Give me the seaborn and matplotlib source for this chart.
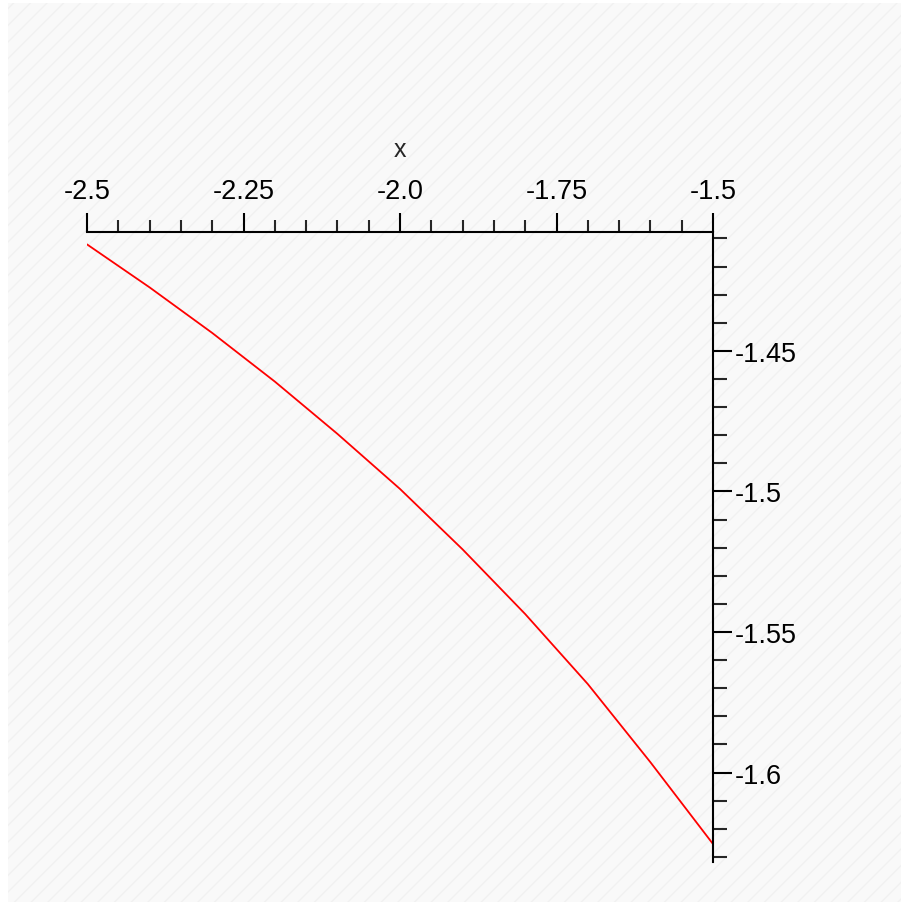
import matplotlib
matplotlib.use("Agg")
import matplotlib.pyplot as plt
import seaborn as sns
import numpy as np
import pandas as pd
from matplotlib.patches import Rectangle
from matplotlib.ticker import MultipleLocator

# ---- data ----
x_vals = [-2.5, -2.4, -2.3, -2.2, -2.1, -2.0, -1.9, -1.8, -1.7, -1.6, -1.5]
y_vals = [-1.4121, -1.4274, -1.4436, -1.4609, -1.4795, -1.4991, -1.5206,
          -1.5436, -1.5685, -1.5963, -1.6254]
x_ticks = [-2.5, -2.25, -2.0, -1.75, -1.5]
x_tick_labels = ["-2.5", "-2.25", "-2.0", "-1.75", "-1.5"]
y_ticks = [-1.45, -1.5, -1.55, -1.6]
y_tick_labels = ["-1.45", "-1.5", "-1.55", "-1.6"]
x_label = "x"

sns.set_style("ticks")
plt.rcParams['font.family'] = ['Liberation Sans', 'DejaVu Sans']
plt.rcParams['hatch.linewidth'] = 1.0

W, H = 901, 903
fig = plt.figure(figsize=(W / 100, H / 100), dpi=100)
fig.patch.set_facecolor("white")
bg = Rectangle((8 / W, 0), 1 - 8 / W, 1 - 4 / H, transform=fig.transFigure,
               facecolor="#f9f9f9", edgecolor="#f1f1f1", hatch="//", linewidth=0,
               zorder=-10)
fig.add_artist(bg)

left, right = 87 / W, 713 / W
top, bottom = 1 - 233 / H, 1 - 863 / H
ax = fig.add_axes([left, bottom, right - left, top - bottom])
ax.set_zorder(5)
ax.patch.set_alpha(0)

df = pd.DataFrame({"x": x_vals, "y": y_vals})
sns.lineplot(data=df, x="x", y="y", color="#ff0000", linewidth=1.3, ax=ax)

ax.set_xlim(-2.5, -1.5)
ax.set_ylim(-1.6318, -1.4077)

for s in ["left", "bottom"]:
    ax.spines[s].set_visible(False)
for s in ["top", "right"]:
    ax.spines[s].set_visible(True)
    ax.spines[s].set_linewidth(1.5)
    ax.spines[s].set_color("black")

ax.xaxis.set_ticks_position("top")
ax.xaxis.set_label_position("top")
ax.yaxis.set_ticks_position("right")

ax.set_xticks(x_ticks)
ax.set_xticklabels(x_tick_labels)
ax.set_yticks(y_ticks)
ax.set_yticklabels(y_tick_labels)
ax.xaxis.set_minor_locator(MultipleLocator(0.05))
ax.yaxis.set_minor_locator(MultipleLocator(0.01))

ax.tick_params(axis="x", which="major", direction="out", length=14, width=1.5,
               pad=6, labelsize=19.5, colors="black")
ax.tick_params(axis="x", which="minor", direction="out", length=9, width=1.5)
ax.tick_params(axis="y", which="major", direction="out", length=14, width=1.5,
               pad=2, labelsize=19.5, colors="black")
ax.tick_params(axis="y", which="minor", direction="out", length=10, width=1.5)

ax.set_xlabel(x_label, fontsize=18, labelpad=16)
ax.set_ylabel("")

fig.savefig("out.png", dpi=100)
